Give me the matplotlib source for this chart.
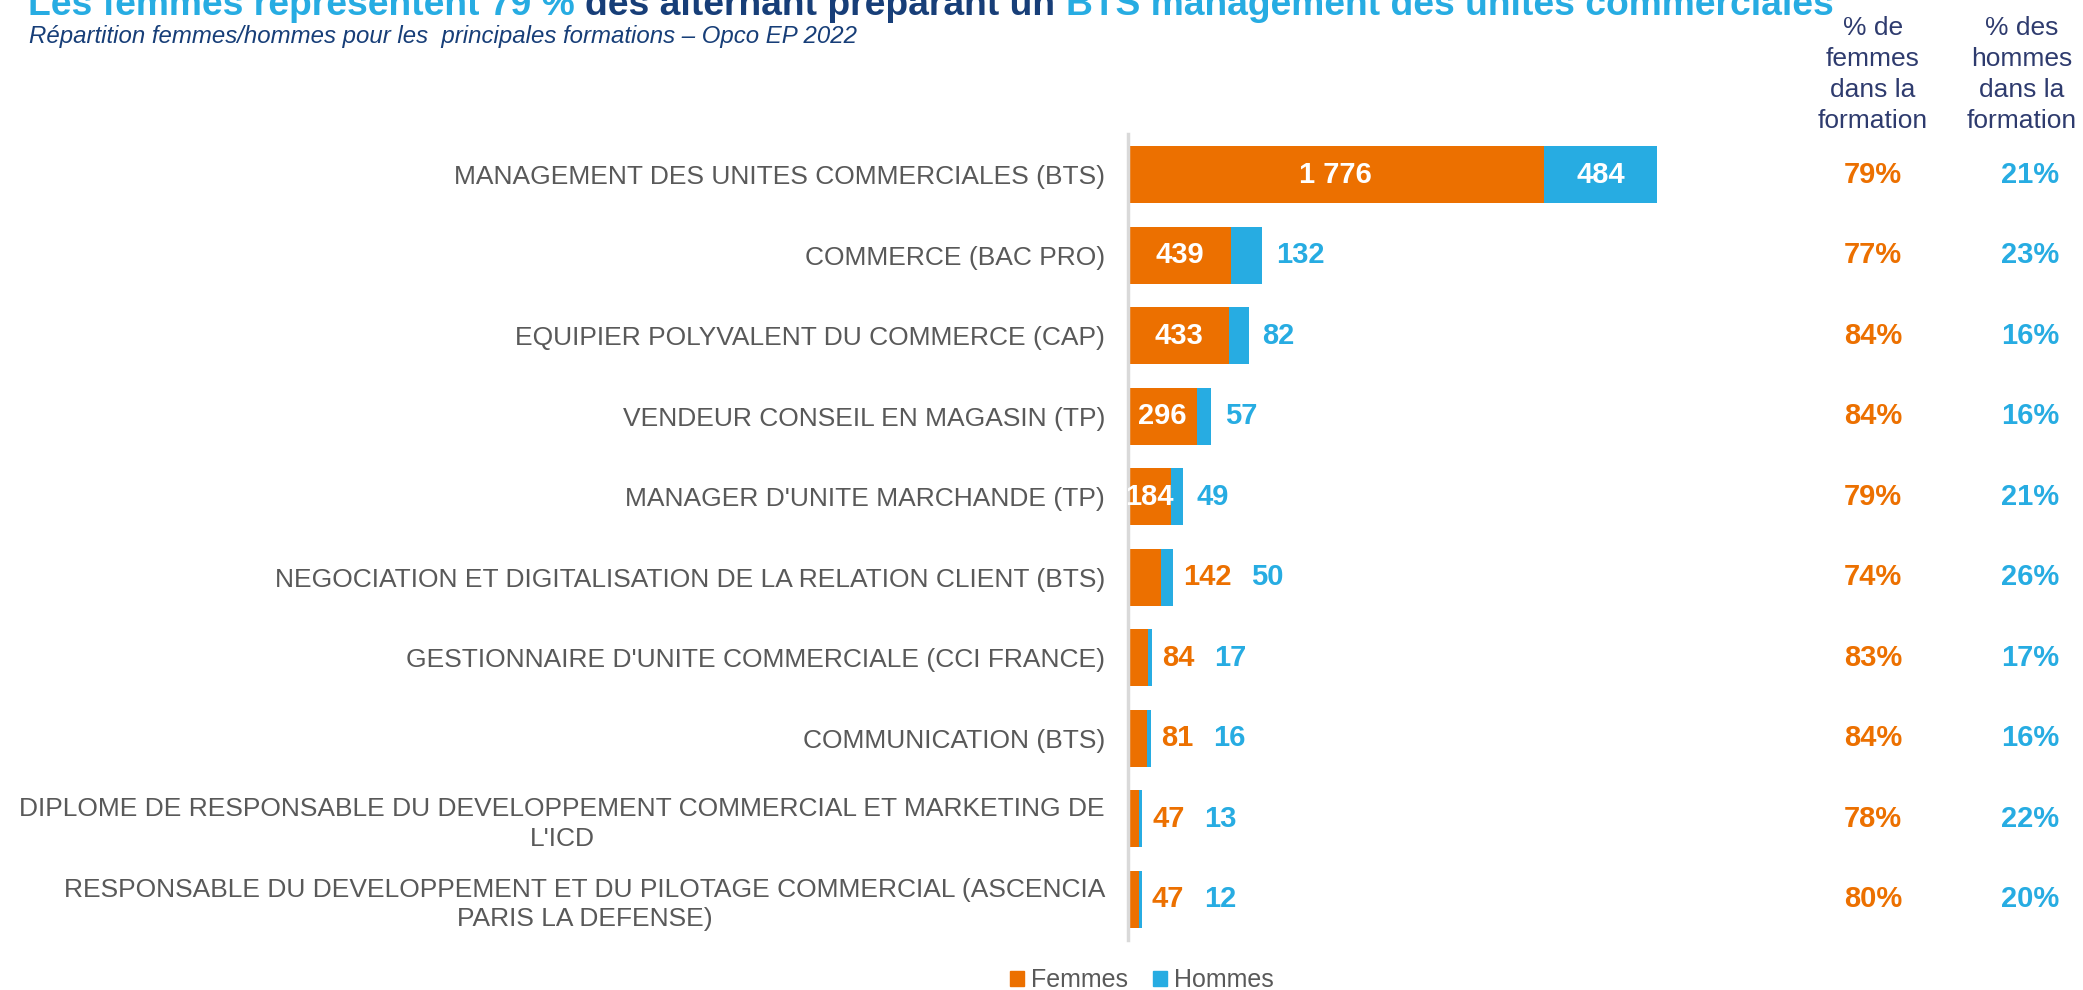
import matplotlib
matplotlib.use("Agg")
import matplotlib.pyplot as plt
from matplotlib.patches import Patch
from matplotlib.transforms import blended_transform_factory

plt.rcParams['font.family'] = ['Liberation Sans', 'DejaVu Sans']

categories = [
    "MANAGEMENT DES UNITES COMMERCIALES (BTS)",
    "COMMERCE (BAC PRO)",
    "EQUIPIER POLYVALENT DU COMMERCE (CAP)",
    "VENDEUR CONSEIL EN MAGASIN (TP)",
    "MANAGER D'UNITE MARCHANDE (TP)",
    "NEGOCIATION ET DIGITALISATION DE LA RELATION CLIENT (BTS)",
    "GESTIONNAIRE D'UNITE COMMERCIALE (CCI FRANCE)",
    "COMMUNICATION (BTS)",
    "DIPLOME DE RESPONSABLE DU DEVELOPPEMENT COMMERCIAL ET MARKETING DE\nL'ICD",
    "RESPONSABLE DU DEVELOPPEMENT ET DU PILOTAGE COMMERCIAL (ASCENCIA\nPARIS LA DEFENSE)",
]
femmes = [1776, 439, 433, 296, 184, 142, 84, 81, 47, 47]
hommes = [484, 132, 82, 57, 49, 50, 17, 16, 13, 12]
pct_femmes = [79, 77, 84, 84, 79, 74, 83, 84, 78, 80]
pct_hommes = [21, 23, 16, 16, 21, 26, 17, 16, 22, 20]
series_names = ["Femmes", "Hommes"]
col_headers = ["% de\nfemmes\ndans la\nformation", "% des\nhommes\ndans la\nformation"]

ORANGE = "#EC7000"
BLUE = "#27ACE2"
NAVY = "#173E78"
HEAD = "#2E3B6E"
GREY = "#595959"

W, H = 2083, 990
fig = plt.figure(figsize=(W / 100, H / 100), dpi=100)

# plot area in pixel geometry
x0, x1 = 1128, 1700
ytop, ybot = 134.5, 939.5
ax = fig.add_axes([x0 / W, 1 - ybot / H, (x1 - x0) / W, (ybot - ytop) / H])

px_per_unit = 529 / 2260
ax.set_xlim(0, (x1 - x0) / px_per_unit)
ax.set_ylim(len(categories) - 0.5, -0.5)

y = list(range(len(categories)))
bh = 0.71
ax.barh(y, femmes, height=bh, color=ORANGE, label=series_names[0])
ax.barh(y, hommes, left=femmes, height=bh, color=BLUE, label=series_names[1])

for s in ["top", "right", "bottom"]:
    ax.spines[s].set_visible(False)
ax.spines["left"].set_color("#D9D9D9")
ax.spines["left"].set_linewidth(2.5)
ax.set_xticks([])
ax.set_yticks(y)
ax.set_yticklabels(categories, fontsize=19, color=GREY)
ax.tick_params(axis="y", length=0, pad=16.5)
for lbl in ax.get_yticklabels():
    lbl.set_multialignment("center")
    lbl.set_linespacing(1.3)


def fmt(v):
    return f"{v:,}".replace(",", "\u00a0")


VAL_FS = 21
fig.canvas.draw()
renderer = fig.canvas.get_renderer()

for i, (f, h) in enumerate(zip(femmes, hommes)):
    total = f + h
    orange_outside = f < 150
    if not orange_outside:
        ax.text(f / 2, i, fmt(f), ha="center", va="center", color="white",
                fontsize=VAL_FS, fontweight="bold")
        next_px = 14
    else:
        t = ax.annotate(fmt(f), xy=(total, i), xytext=(10, 0), textcoords="offset pixels",
                        ha="left", va="center", color=ORANGE,
                        fontsize=VAL_FS, fontweight="bold")
        bb = t.get_window_extent(renderer)
        end_px = ax.transData.transform((total, i))[0]
        next_px = bb.x1 - end_px + 20
    if h >= 300:
        ax.text(f + h / 2, i, fmt(h), ha="center", va="center", color="white",
                fontsize=VAL_FS, fontweight="bold")
    else:
        ax.annotate(fmt(h), xy=(total, i), xytext=(next_px, 0), textcoords="offset pixels",
                    ha="left", va="center", color=BLUE,
                    fontsize=VAL_FS, fontweight="bold")

# percentage columns on the right
trans = blended_transform_factory(fig.transFigure, ax.transData)
col_x = [1873 / W, 2030 / W]
for i in y:
    ax.text(col_x[0], i, f"{pct_femmes[i]}%", transform=trans, ha="center", va="center",
            color=ORANGE, fontsize=VAL_FS, fontweight="bold", clip_on=False)
    ax.text(col_x[1], i, f"{pct_hommes[i]}%", transform=trans, ha="center", va="center",
            color=BLUE, fontsize=VAL_FS, fontweight="bold", clip_on=False)

head_x = [1873 / W, 2022 / W]
for hx, txt in zip(head_x, col_headers):
    fig.text(hx, 1 - 133 / H, txt, ha="center", va="bottom", ma="center",
             color=HEAD, fontsize=19, linespacing=1.37)

# title in three coloured parts
title_parts = [("Les femmes représentent 79 %", BLUE),
               ("des alternant préparant un", NAVY),
               ("BTS management des unités commerciales", BLUE)]
TFS = 26.8
probe1 = fig.text(0, 0, "x x", fontsize=TFS, fontweight="bold")
probe2 = fig.text(0, 0, "xx", fontsize=TFS, fontweight="bold")
space_px = probe1.get_window_extent(renderer).width - probe2.get_window_extent(renderer).width
probe1.remove()
probe2.remove()

tx = 28
ty = 1 - 15 / H
for txt, col in title_parts:
    t = fig.text(tx / W, ty, txt, ha="left", va="baseline", color=col,
                 fontsize=TFS, fontweight="bold")
    bb = t.get_window_extent(renderer)
    tx = bb.x1 + space_px

fig.text(29 / W, 1 - 43 / H, "Répartition femmes/hommes pour les  principales formations – Opco EP 2022",
         ha="left", va="baseline", color=NAVY, fontsize=17.3, fontstyle="italic")

handles = [Patch(color=ORANGE, label=series_names[0]), Patch(color=BLUE, label=series_names[1])]
fig.legend(handles=handles, loc="center", bbox_to_anchor=(1142 / W, 1 - 980 / H), ncol=2,
           frameon=False, fontsize=18, handlelength=0.55, handleheight=0.55,
           handletextpad=0.3, columnspacing=1.0, labelcolor=GREY)

fig.savefig("out.png", dpi=100)
